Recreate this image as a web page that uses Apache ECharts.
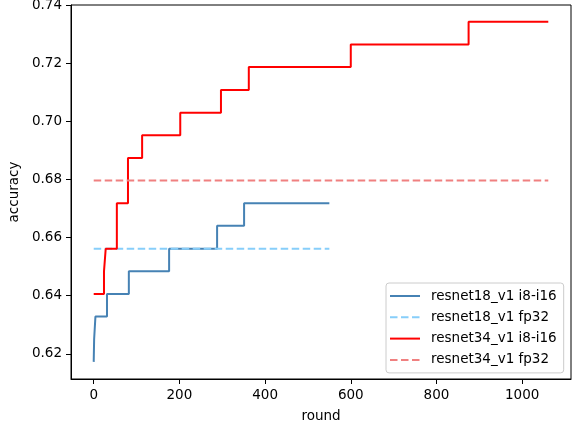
<!DOCTYPE html>
<html>
<head>
<meta charset="utf-8">
<script src="https://cdn.jsdelivr.net/npm/echarts@6/dist/echarts.min.js"></script>
<style>
  html, body { margin: 0; padding: 0; background: #fff; }
  #main { width: 573px; height: 425px; }
</style>
</head>
<body>
<div id="main"></div>
<script>
// step change points: round at which the accuracy changes
const r18Rounds = [0, 1, 4, 31, 82, 176, 288, 351, 550];
const r18Acc    = [0.6172, 0.625, 0.6328, 0.6406, 0.6484, 0.6562, 0.6641, 0.6719, 0.6719];
const r18Fp32Rounds = [0, 550];
const r18Fp32Acc    = [0.6562, 0.6562];

const r34Rounds = [0, 24, 28, 54, 80, 113, 202, 297, 362, 600, 875, 1061];
const r34Acc    = [0.6406, 0.6484, 0.6562, 0.6719, 0.6875, 0.6953, 0.7031, 0.7109, 0.7188, 0.7266, 0.7344, 0.7344];
const r34Fp32Rounds = [0, 1061];
const r34Fp32Acc    = [0.6797, 0.6797];

const xTicks = [0, 200, 400, 600, 800, 1000];
const yTicks = [0.62, 0.64, 0.66, 0.68, 0.70, 0.72, 0.74];

const names = ['resnet18_v1 i8-i16', 'resnet18_v1 fp32', 'resnet34_v1 i8-i16', 'resnet34_v1 fp32'];

function pairs(xs, ys) {
  return xs.map((x, i) => [x, ys[i]]);
}

window.addEventListener('load', function () {
  var chart = echarts.init(document.getElementById('main'));
  const font = 'DejaVu Sans';
  const dash = [7.5, 3.5];

  chart.setOption({
    animation: false,
    textStyle: { fontFamily: font },
    grid: { left: 71, right: 2, top: 5, bottom: 46, show: true, borderColor: '#000', borderWidth: 1,
      outerBoundsMode: 'none', containLabel: false },
    legend: {
      orient: 'vertical',
      left: 386, top: 283,
      padding: [6, 7, 6, 3],
      itemWidth: 30, itemHeight: 14, itemGap: 7.3,
      backgroundColor: 'rgba(255,255,255,0.85)',
      borderColor: '#ccc', borderWidth: 1, borderRadius: 3,
      itemStyle: { opacity: 0 },
      textStyle: { fontSize: 13.5, color: '#000', fontFamily: font, padding: [0, 0, 0, 6] },
      data: names
    },
    xAxis: {
      type: 'value',
      min: -53, max: 1114,
      name: 'round', nameLocation: 'middle', nameGap: 30,
      nameTextStyle: { fontSize: 13.5, color: '#000', fontFamily: font },
      axisLine: { show: true, onZero: false, lineStyle: { color: '#000' } },
      splitLine: { show: false },
      axisTick: { show: true, inside: false, length: 5, lineStyle: { color: '#000' }, customValues: xTicks },
      axisLabel: { fontSize: 13.5, color: '#000', margin: 9, customValues: xTicks,
        formatter: v => String(v) }
    },
    yAxis: {
      type: 'value',
      min: 0.6113, max: 0.7402,
      name: 'accuracy', nameLocation: 'middle', nameGap: 46,
      nameTextStyle: { fontSize: 13.5, color: '#000', fontFamily: font },
      axisLine: { show: true, onZero: false, lineStyle: { color: '#000' } },
      splitLine: { show: false },
      axisTick: { show: true, inside: false, length: 5, lineStyle: { color: '#000' }, customValues: yTicks },
      axisLabel: { fontSize: 13.5, color: '#000', margin: 9, customValues: yTicks,
        formatter: v => v.toFixed(2) }
    },
    series: [
      { name: names[0], type: 'line', step: 'end', symbol: 'none',
        data: pairs(r18Rounds, r18Acc),
        itemStyle: { color: '#4682b4' }, lineStyle: { color: '#4682b4', width: 2 } },
      { name: names[1], type: 'line', symbol: 'none',
        data: pairs(r18Fp32Rounds, r18Fp32Acc),
        itemStyle: { color: '#87cefa' }, lineStyle: { color: '#87cefa', width: 2, type: dash } },
      { name: names[2], type: 'line', step: 'end', symbol: 'none',
        data: pairs(r34Rounds, r34Acc),
        itemStyle: { color: '#ff0000' }, lineStyle: { color: '#ff0000', width: 2 } },
      { name: names[3], type: 'line', symbol: 'none',
        data: pairs(r34Fp32Rounds, r34Fp32Acc),
        itemStyle: { color: '#f08080' }, lineStyle: { color: '#f08080', width: 2, type: dash } }
    ]
  });
});
</script>
</body>
</html>
